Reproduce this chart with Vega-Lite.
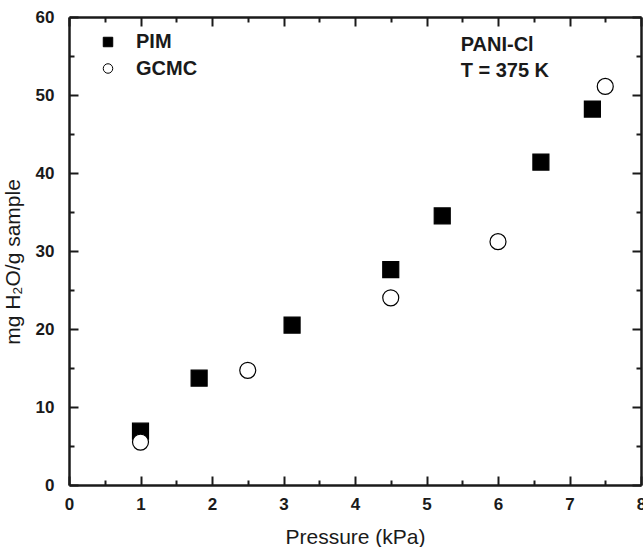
{
  "$schema": "https://vega.github.io/schema/vega-lite/v6.json",
  "width": 572,
  "height": 468,
  "autosize": {"type": "none"},
  "padding": {"left": 69, "top": 17, "right": 2, "bottom": 62},
  "background": "white",
  "config": {
    "view": {"stroke": null},
    "font": "Liberation Sans",
    "axis": {
      "domainColor": "#1a1a1a",
      "domainWidth": 2.5,
      "tickColor": "#1a1a1a",
      "tickWidth": 2,
      "labelFont": "Liberation Sans",
      "labelFontWeight": "bold",
      "labelFontSize": 17,
      "labelColor": "#1a1a1a",
      "titleFont": "Liberation Sans",
      "titleFontWeight": "normal",
      "titleFontSize": 21,
      "titleColor": "#1a1a1a",
      "grid": false,
      "labelOverlap": false,
      "labelBound": false,
      "labelFlush": false
    }
  },
  "data": {
    "values": [
      {"series": "PIM", "p": 1.0, "w": 6.9},
      {"series": "PIM", "p": 1.82, "w": 13.7},
      {"series": "PIM", "p": 3.12, "w": 20.5},
      {"series": "PIM", "p": 4.5, "w": 27.6},
      {"series": "PIM", "p": 5.22, "w": 34.5},
      {"series": "PIM", "p": 6.6, "w": 41.4},
      {"series": "PIM", "p": 7.32, "w": 48.2},
      {"series": "GCMC", "p": 1.0, "w": 5.5},
      {"series": "GCMC", "p": 2.5, "w": 14.7},
      {"series": "GCMC", "p": 4.5, "w": 24.0},
      {"series": "GCMC", "p": 6.0, "w": 31.2},
      {"series": "GCMC", "p": 7.5, "w": 51.1}
    ]
  },
  "layer": [
    {
      "mark": {"type": "point", "opacity": 0},
      "encoding": {
        "x": {
          "field": "p", "type": "quantitative",
          "scale": {"domain": [0, 8], "nice": false, "zero": false},
          "axis": {"orient": "bottom", "title": null, "labels": false, "domain": false,
                   "values": [0.5, 1.5, 2.5, 3.5, 4.5, 5.5, 6.5, 7.5], "tickSize": -5}
        },
        "y": {
          "field": "w", "type": "quantitative",
          "scale": {"domain": [0, 60], "nice": false, "zero": false},
          "axis": {"orient": "left", "title": null, "labels": false, "domain": false,
                   "values": [5, 15, 25, 35, 45, 55], "tickSize": -5}
        }
      }
    },
    {
      "mark": {"type": "point", "opacity": 0},
      "encoding": {
        "x": {
          "field": "p", "type": "quantitative",
          "scale": {"domain": [0, 8], "nice": false, "zero": false},
          "axis": {"orient": "top", "title": null, "labels": false,
                   "values": [0, 1, 2, 3, 4, 5, 6, 7, 8], "tickSize": -9}
        },
        "y": {
          "field": "w", "type": "quantitative",
          "scale": {"domain": [0, 60], "nice": false, "zero": false},
          "axis": {"orient": "right", "title": null, "labels": false,
                   "values": [0, 10, 20, 30, 40, 50, 60], "tickSize": -9}
        }
      }
    },
    {
      "mark": {"type": "point", "opacity": 0},
      "encoding": {
        "x": {
          "field": "p", "type": "quantitative",
          "scale": {"domain": [0, 8], "nice": false, "zero": false},
          "axis": {"orient": "top", "title": null, "labels": false, "domain": false,
                   "values": [0.5, 1.5, 2.5, 3.5, 4.5, 5.5, 6.5, 7.5], "tickSize": -5}
        },
        "y": {
          "field": "w", "type": "quantitative",
          "scale": {"domain": [0, 60], "nice": false, "zero": false},
          "axis": {"orient": "right", "title": null, "labels": false, "domain": false,
                   "values": [5, 15, 25, 35, 45, 55], "tickSize": -5}
        }
      }
    },
    {
      "mark": {"type": "point", "filled": false, "strokeWidth": 1.2, "size": 256, "opacity": 1},
      "encoding": {
        "x": {
          "field": "p", "type": "quantitative",
          "scale": {"domain": [0, 8], "nice": false, "zero": false},
          "axis": {
            "orient": "bottom",
            "title": "Pressure (kPa)",
            "values": [0, 1, 2, 3, 4, 5, 6, 7, 8],
            "format": "d",
            "tickSize": -9,
            "labelPadding": 20,
            "titleBaseline": "alphabetic",
            "titleY": 58.5,
            "titleX": 286
          }
        },
        "y": {
          "field": "w", "type": "quantitative",
          "scale": {"domain": [0, 60], "nice": false, "zero": false},
          "axis": {
            "orient": "left",
            "title": "mg H₂O/g sample",
            "values": [0, 10, 20, 30, 40, 50, 60],
            "format": "d",
            "tickSize": -9,
            "labelPadding": 24,
            "titleBaseline": "alphabetic",
            "titleX": -50,
            "titleY": 244.5
          }
        },
        "shape": {
          "field": "series", "type": "nominal",
          "scale": {"domain": ["PIM", "GCMC"], "range": ["square", "circle"]},
          "legend": {
            "title": null,
            "orient": "none",
            "legendX": 29,
            "legendY": 15,
            "padding": 0,
            "symbolSize": 90,
            "symbolStrokeWidth": 1,
            "labelFont": "Liberation Sans",
            "labelFontWeight": "bold",
            "labelFontSize": 20,
            "labelColor": "#1a1a1a",
            "labelOffset": 18,
            "rowPadding": 6.5
          }
        },
        "fill": {
          "field": "series", "type": "nominal",
          "scale": {"domain": ["PIM", "GCMC"], "range": ["black", "white"]}
        },
        "stroke": {
          "field": "series", "type": "nominal",
          "scale": {"domain": ["PIM", "GCMC"], "range": ["black", "black"]}
        }
      }
    },
    {
      "data": {"values": [{"t": "PANI-Cl"}]},
      "mark": {"type": "text", "align": "left", "baseline": "alphabetic", "font": "Liberation Sans", "fontWeight": "bold", "fontSize": 20, "color": "#1a1a1a"},
      "encoding": {
        "x": {"datum": 5.478, "type": "quantitative", "scale": {"domain": [0, 8], "nice": false, "zero": false}, "axis": null},
        "y": {"datum": 55.69, "type": "quantitative", "scale": {"domain": [0, 60], "nice": false, "zero": false}, "axis": null},
        "text": {"field": "t"}
      }
    },
    {
      "data": {"values": [{"t": "T = 375 K"}]},
      "mark": {"type": "text", "align": "left", "baseline": "alphabetic", "font": "Liberation Sans", "fontWeight": "bold", "fontSize": 20, "color": "#1a1a1a"},
      "encoding": {
        "x": {"datum": 5.478, "type": "quantitative", "scale": {"domain": [0, 8], "nice": false, "zero": false}, "axis": null},
        "y": {"datum": 52.36, "type": "quantitative", "scale": {"domain": [0, 60], "nice": false, "zero": false}, "axis": null},
        "text": {"field": "t"}
      }
    }
  ],
  "resolve": {"scale": {"x": "independent", "y": "independent"}, "axis": {"x": "independent", "y": "independent"}}
}
